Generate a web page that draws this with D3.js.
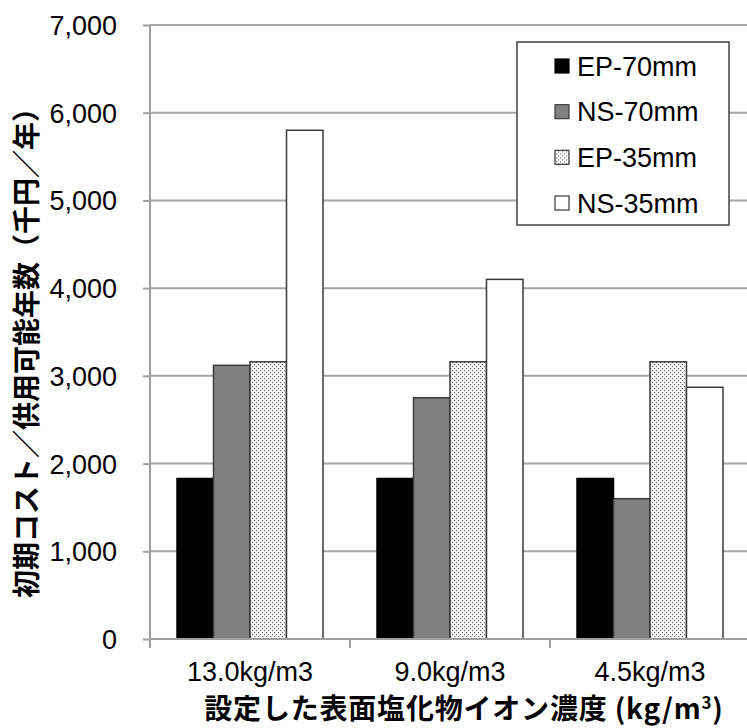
<!DOCTYPE html>
<html>
<head>
<meta charset="utf-8">
<script src="https://cdn.jsdelivr.net/npm/d3@7"></script>
<style>
  html, body { margin: 0; padding: 0; background: #fff; }
  svg { display: block; }
</style>
</head>
<body>
<svg id="chart" width="747" height="728"></svg>
<script>
// Surface chloride concentration categories
const categories = ["13.0kg/m3", "9.0kg/m3", "4.5kg/m3"];
const seriesNames = ["EP-70mm", "NS-70mm", "EP-35mm", "NS-35mm"];
// Initial cost per service-life year (thousand yen / year)
const ep70 = [1830, 1830, 1830];
const ns70 = [3120, 2750, 1600];
const ep35 = [3160, 3160, 3160];
const ns35 = [5800, 4100, 2870];
const yTicks = [0, 1000, 2000, 3000, 4000, 5000, 6000, 7000];

const seriesValues = [ep70, ns70, ep35, ns35];
const fills = ["#000000", "#808080", "url(#dots)", "#ffffff"];

const svg = d3.select("#chart");
const font = "'Liberation Sans', Arial, sans-serif";
const cjk = "'Noto Sans CJK JP', 'Noto Sans CJK SC', sans-serif";

// dotted fill pattern
const defs = svg.append("defs");
const pat = defs.append("pattern")
  .attr("id", "dots").attr("patternUnits", "userSpaceOnUse")
  .attr("width", 4).attr("height", 4);
pat.append("rect").attr("width", 4).attr("height", 4).attr("fill", "#ffffff");
pat.append("rect").attr("x", 0).attr("y", 0).attr("width", 1.2).attr("height", 1.2).attr("fill", "#6a6a6a");
pat.append("rect").attr("x", 2).attr("y", 2).attr("width", 1.2).attr("height", 1.2).attr("fill", "#6a6a6a");

const x0 = 150, x1 = 750, yTop = 25, yBot = 639;

const x = d3.scaleBand().domain(categories).range([x0, x1]).paddingInner(0).paddingOuter(0);
const xi = d3.scaleBand().domain(seriesNames)
  .range([0, x.bandwidth()]).paddingInner(0).paddingOuter(0.74);
const y = d3.scaleLinear().domain([0, 7000]).range([yBot, yTop]);

// gridlines
svg.append("g").selectAll("line").data(yTicks.filter(d => d > 0)).join("line")
  .attr("x1", x0).attr("x2", 747)
  .attr("y1", d => y(d)).attr("y2", d => y(d))
  .attr("stroke", "#a6a6a6").attr("stroke-width", 2);

// y axis
const yAxis = d3.axisLeft(y).tickValues(yTicks).tickSize(7).tickPadding(26)
  .tickFormat(d3.format(","));
const gy = svg.append("g").attr("transform", `translate(${x0},0)`).call(yAxis);
gy.select(".domain").attr("stroke", "#a0a0a0").attr("stroke-width", 2)
  .attr("d", `M0,${yTop}V${yBot}`);
gy.selectAll(".tick line").attr("stroke", "#a0a0a0").attr("stroke-width", 2);
gy.selectAll(".tick text").attr("font-family", font).attr("font-size", 27)
  .attr("fill", "#000").attr("dy", "0.35em");

// bars
const groups = svg.append("g").selectAll("g").data(categories).join("g")
  .attr("transform", d => `translate(${x(d)},0)`);
groups.selectAll("rect")
  .data((c, ci) => seriesNames.map((s, si) => ({ s, si, v: seriesValues[si][ci] })))
  .join("rect")
  .attr("x", d => xi(d.s))
  .attr("width", xi.bandwidth())
  .attr("y", d => y(d.v))
  .attr("height", d => y(0) - y(d.v))
  .attr("fill", d => fills[d.si])
  .attr("stroke", d => d.si === 0 ? "#000" : "#3a3a3a")
  .attr("stroke-width", 1.5);

// x axis
const xAxis = d3.axisBottom(x).tickSize(0).tickPadding(23);
const gx = svg.append("g").attr("transform", `translate(0,${yBot})`).call(xAxis);
gx.select(".domain").attr("stroke", "#a0a0a0").attr("stroke-width", 2)
  .attr("d", `M${x0},0H747`);
gx.selectAll(".tick text").attr("font-family", font).attr("font-size", 27).attr("fill", "#000");
// boundary ticks between categories
svg.append("g").selectAll("line").data(categories).join("line")
  .attr("x1", d => x(d)).attr("x2", d => x(d))
  .attr("y1", yBot).attr("y2", yBot + 9)
  .attr("stroke", "#a0a0a0").attr("stroke-width", 2);

// axis titles
svg.append("text")
  .attr("x", 464).attr("y", 719)
  .attr("text-anchor", "middle")
  .attr("font-family", cjk).attr("font-weight", "bold").attr("font-size", 28)
  .attr("letter-spacing", 0.8)
  .attr("fill", "#000")
  .html('設定した表面塩化物イオン濃度 (kg/m<tspan dy="-10" font-size="17">3</tspan><tspan dy="10">)</tspan>');

svg.append("text")
  .attr("transform", "translate(37,346) rotate(-90)")
  .attr("text-anchor", "middle")
  .attr("font-family", cjk).attr("font-weight", "bold").attr("font-size", 28)
  .attr("fill", "#000")
  .text("初期コスト／供用可能年数（千円／年）");

// legend
const lg = svg.append("g");
lg.append("rect").attr("x", 517).attr("y", 42).attr("width", 212).attr("height", 183)
  .attr("fill", "#fff").attr("stroke", "#404040").attr("stroke-width", 1.5);
const rowY = d3.scalePoint().domain(seriesNames).range([66, 203]);
const items = lg.selectAll("g.item").data(seriesNames).join("g").attr("class", "item")
  .attr("transform", d => `translate(0,${rowY(d)})`);
items.append("rect").attr("x", 555).attr("y", -7).attr("width", 14).attr("height", 14)
  .attr("fill", (d, i) => fills[i])
  .attr("stroke", (d, i) => i === 0 ? "#000" : "#3a3a3a").attr("stroke-width", 1.2);
items.append("text").attr("x", 577).attr("dy", "0.36em")
  .attr("font-family", font).attr("font-size", 27).attr("fill", "#000")
  .text(d => d);
</script>
</body>
</html>
